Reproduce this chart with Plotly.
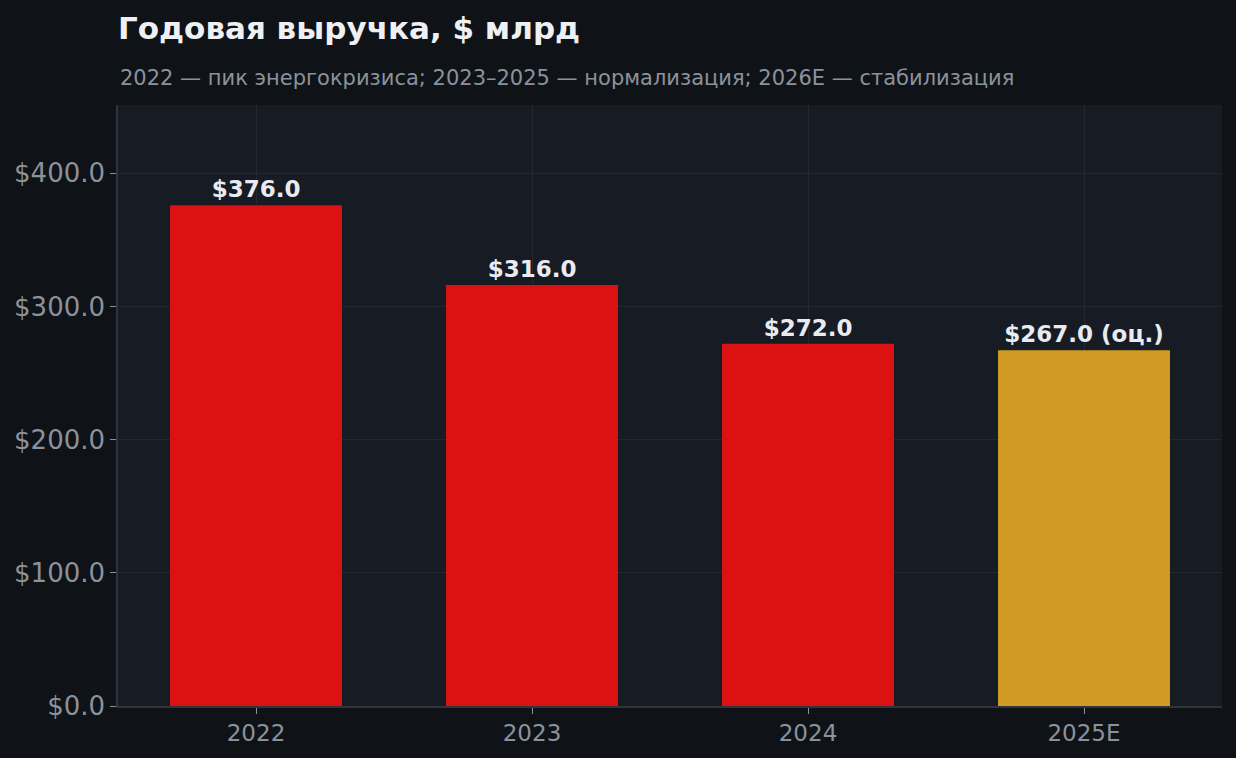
import plotly.graph_objects as go

# данные
years = ['2022', '2023', '2024', '2025E']
revenue = [376.0, 316.0, 272.0, 267.0]
labels = ['$376.0', '$316.0', '$272.0', '$267.0 (оц.)']
bar_colors = ['#dc1212', '#dc1212', '#dc1212', '#d19a22']

FONT = 'DejaVu Sans'

fig = go.Figure(data=go.Bar(
    x=years,
    y=revenue,
    text=labels,
    textposition='outside',
    textfont=dict(family=FONT, size=23, color='#e8ebf0', weight='bold'),
    marker=dict(color=bar_colors, line=dict(width=0)),
    width=0.623,
    cliponaxis=False,
    hoverinfo='skip',
))

fig.update_layout(
    width=1236, height=758,
    paper_bgcolor='#0f1317',
    plot_bgcolor='#171b23',
    margin=dict(l=118, r=14, t=105, b=52),
    showlegend=False,
    font=dict(family=FONT, color='#8b929c'),
    title=dict(
        text='<b>Годовая выручка, $ млрд</b>',
        font=dict(family=FONT, size=31, color='#eef0f4'),
        x=118 / 1236, xanchor='left',
        y=1 - 28 / 758, yanchor='middle',
    ),
    annotations=[dict(
        text='2022 — пик энергокризиса; 2023–2025 — нормализация; 2026E — стабилизация',
        xref='paper', yref='paper', x=0, y=(706 - 78) / 601,
        xanchor='left', yanchor='middle', showarrow=False,
        font=dict(family=FONT, size=21, color='#8b929c'),
    )],
)

fig.update_xaxes(
    showgrid=True, gridcolor='#23272f', gridwidth=1,
    showline=True, linecolor='#2f343d', linewidth=1.5,
    ticks='outside', ticklen=6, tickcolor='#8b929c',
    tickfont=dict(family=FONT, size=23, color='#8b929c'),
)
fig.update_yaxes(
    range=[0, 451.2],
    tickvals=[0, 100, 200, 300, 400],
    tickformat='$.1f',
    showgrid=True, gridcolor='#23272f', gridwidth=1,
    showline=True, linecolor='#2f343d', linewidth=1.5,
    zeroline=False,
    ticks='outside', ticklen=6, tickcolor='#8b929c',
    tickfont=dict(family=FONT, size=26, color='#8b929c'),
)

# убрать отступ body, чтобы график начинался с (0, 0)
fig.write_html('out.html', config={'displayModeBar': False},
               post_script="document.body.style.margin='0';document.body.style.background='#0f1317';")
